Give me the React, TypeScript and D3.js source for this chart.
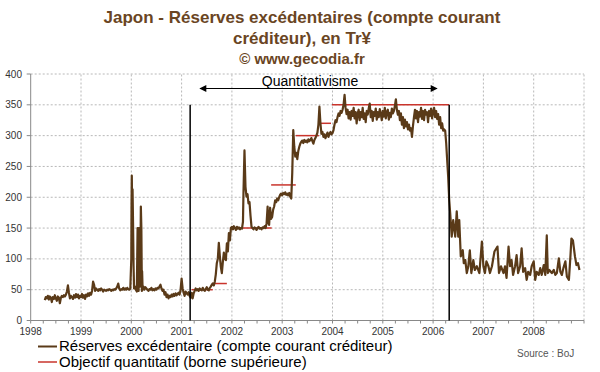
import React from "react";
import * as d3 from "d3";

const W = 600, H = 372;

const titleLines = ["Japon - Réserves excédentaires (compte courant", "créditeur), en Tr¥"];
const subtitle = "© www.gecodia.fr";
const yTicks = [0, 50, 100, 150, 200, 250, 300, 350, 400];
const yearTicks = [1998, 1999, 2000, 2001, 2002, 2003, 2004, 2005, 2006, 2007, 2008];
const legendLabels = ["Réserves excédentaire (compte courant créditeur)", "Objectif quantitatif (borne supérieure)"];
const sourceLabel = "Source : BoJ";
const annotationLabel = "Quantitativisme";
const qeStart = 2001.17;
const qeEnd = 2006.32;

// Reserves (decimal year, value)
const resT = [
  1998.28, 1998.30, 1998.32, 1998.34, 1998.36, 1998.38, 1998.40, 1998.42, 1998.44, 1998.46, 1998.48, 1998.50, 1998.52, 1998.54, 1998.56, 1998.58, 1998.60, 1998.62, 1998.64, 1998.66, 1998.68, 1998.70, 1998.72, 1998.74, 1998.76, 1998.78, 1998.80, 1998.82, 1998.84, 1998.86, 1998.88, 1998.90, 1998.92, 1998.94, 1998.96, 1998.98,
  1999.00, 1999.02, 1999.04, 1999.06, 1999.08, 1999.10, 1999.12, 1999.14, 1999.16, 1999.18, 1999.20, 1999.22, 1999.24, 1999.26, 1999.28, 1999.30, 1999.32, 1999.34, 1999.36, 1999.38, 1999.40, 1999.42, 1999.44, 1999.46, 1999.48, 1999.50, 1999.52, 1999.54, 1999.56, 1999.58, 1999.60, 1999.62, 1999.64, 1999.66, 1999.68, 1999.70, 1999.72, 1999.74, 1999.76, 1999.78, 1999.80, 1999.82, 1999.84, 1999.86, 1999.88, 1999.90, 1999.92, 1999.94, 1999.96, 1999.98,
  2000.00, 2000.005, 2000.01, 2000.02, 2000.025, 2000.035, 2000.045, 2000.055, 2000.07, 2000.09, 2000.11, 2000.125, 2000.135, 2000.145, 2000.155, 2000.165, 2000.175, 2000.18, 2000.19, 2000.20, 2000.21, 2000.215, 2000.225, 2000.24, 2000.26, 2000.28, 2000.30, 2000.32, 2000.34, 2000.36, 2000.38, 2000.40, 2000.42, 2000.44, 2000.46, 2000.48, 2000.50, 2000.52, 2000.54, 2000.56, 2000.58, 2000.60, 2000.62, 2000.64, 2000.66, 2000.68, 2000.70, 2000.72, 2000.74, 2000.76, 2000.78, 2000.80, 2000.82, 2000.84, 2000.86, 2000.88, 2000.90, 2000.92, 2000.94, 2000.96, 2000.98,
  2001.00, 2001.02, 2001.04, 2001.06, 2001.08, 2001.10, 2001.12, 2001.14, 2001.16, 2001.18, 2001.20, 2001.22, 2001.24, 2001.26, 2001.28, 2001.30, 2001.32, 2001.34, 2001.36, 2001.38, 2001.40, 2001.42, 2001.44, 2001.46, 2001.48, 2001.50, 2001.52, 2001.54, 2001.56, 2001.58, 2001.60, 2001.62, 2001.64, 2001.66, 2001.68, 2001.70, 2001.72, 2001.74, 2001.76, 2001.78, 2001.80, 2001.82, 2001.84, 2001.86, 2001.88, 2001.90, 2001.92, 2001.94, 2001.96, 2001.98,
  2002.00, 2002.02, 2002.04, 2002.06, 2002.08, 2002.10, 2002.12, 2002.14, 2002.16, 2002.18, 2002.20, 2002.22, 2002.23, 2002.25, 2002.27, 2002.29, 2002.31, 2002.33, 2002.35, 2002.37, 2002.39, 2002.41, 2002.43, 2002.45, 2002.47, 2002.49, 2002.51, 2002.53, 2002.55, 2002.57, 2002.59, 2002.61, 2002.63, 2002.65, 2002.67, 2002.69, 2002.71, 2002.72, 2002.74, 2002.76, 2002.78, 2002.80, 2002.82, 2002.84, 2002.86, 2002.88, 2002.90, 2002.92, 2002.94, 2002.96, 2002.98,
  2003.00, 2003.02, 2003.04, 2003.06, 2003.08, 2003.10, 2003.12, 2003.14, 2003.16, 2003.18, 2003.20, 2003.22, 2003.24, 2003.26, 2003.28, 2003.30, 2003.32, 2003.34, 2003.36, 2003.38, 2003.40, 2003.42, 2003.44, 2003.46, 2003.48, 2003.50, 2003.52, 2003.54, 2003.56, 2003.58, 2003.60, 2003.62, 2003.64, 2003.66, 2003.68, 2003.70, 2003.72, 2003.74, 2003.76, 2003.78, 2003.80, 2003.82, 2003.84, 2003.86, 2003.88, 2003.90, 2003.92, 2003.94, 2003.96, 2003.98,
  2004.00, 2004.02, 2004.04, 2004.06, 2004.08, 2004.10, 2004.12, 2004.14, 2004.16, 2004.18, 2004.20, 2004.22, 2004.24, 2004.26, 2004.28, 2004.30, 2004.32, 2004.34, 2004.36, 2004.38, 2004.40, 2004.42, 2004.44, 2004.46, 2004.48, 2004.50, 2004.52, 2004.54, 2004.56, 2004.58, 2004.60, 2004.62, 2004.64, 2004.66, 2004.68, 2004.70, 2004.72, 2004.74, 2004.76, 2004.78, 2004.80, 2004.82, 2004.84, 2004.86, 2004.88, 2004.90, 2004.92, 2004.94, 2004.96, 2004.98,
  2005.00, 2005.02, 2005.04, 2005.06, 2005.08, 2005.10, 2005.12, 2005.14, 2005.16, 2005.18, 2005.20, 2005.22, 2005.24, 2005.26, 2005.28, 2005.30, 2005.32, 2005.34, 2005.36, 2005.38, 2005.40, 2005.42, 2005.44, 2005.46, 2005.48, 2005.50, 2005.52, 2005.54, 2005.56, 2005.58, 2005.60, 2005.62, 2005.64, 2005.66, 2005.68, 2005.70, 2005.72, 2005.74, 2005.76, 2005.78, 2005.80, 2005.82, 2005.84, 2005.86, 2005.88, 2005.90, 2005.92, 2005.94, 2005.96, 2005.98,
  2006.00, 2006.02, 2006.04, 2006.06, 2006.08, 2006.10, 2006.12, 2006.14, 2006.16, 2006.18, 2006.20, 2006.22, 2006.24, 2006.26, 2006.28, 2006.30, 2006.32, 2006.34, 2006.37, 2006.40, 2006.44, 2006.47, 2006.50, 2006.52, 2006.55, 2006.59, 2006.61, 2006.64, 2006.67, 2006.70, 2006.73, 2006.76, 2006.80, 2006.83, 2006.87, 2006.92, 2006.97,
  2007.00, 2007.03, 2007.06, 2007.10, 2007.13, 2007.17, 2007.22, 2007.28, 2007.31, 2007.35, 2007.40, 2007.43, 2007.46, 2007.50, 2007.53, 2007.56, 2007.59, 2007.63, 2007.66, 2007.69, 2007.73, 2007.76, 2007.79, 2007.83, 2007.86, 2007.89, 2007.93, 2007.96,
  2008.00, 2008.03, 2008.06, 2008.10, 2008.13, 2008.16, 2008.20, 2008.23, 2008.26, 2008.28, 2008.31, 2008.36, 2008.40, 2008.43, 2008.46, 2008.50, 2008.53, 2008.56, 2008.59, 2008.63, 2008.66, 2008.70, 2008.73, 2008.75, 2008.78, 2008.82, 2008.85, 2008.88, 2008.91,
];
const resV = [
  33, 38, 36, 40, 34, 39, 37, 30, 38, 35, 41, 36, 32, 39, 37, 28, 37, 40, 38, 41, 39, 42, 47, 57, 45, 36, 40, 38, 35, 41, 37, 43, 38, 42, 36, 40,
  38, 43, 37, 41, 35, 42, 39, 44, 40, 45, 42, 48, 63, 58, 48, 52, 50, 48, 51, 49, 52, 50, 47, 50, 49, 48, 50, 49, 51, 50, 48, 50, 49, 51, 50, 52, 55, 60, 52, 49, 51, 50, 53, 50, 52, 50, 53, 51, 50, 52,
  100, 190, 235, 150, 213, 156, 88, 52, 55, 50, 47, 150, 150, 48, 150, 150, 55, 82, 185, 150, 48, 80, 50, 55, 50, 54, 52, 50, 48, 51, 50, 53, 49, 51, 49, 52, 50, 53, 52, 55, 58, 52, 48, 50, 42, 46, 38, 42, 36, 40, 38, 42, 39, 43, 40, 44, 41, 43, 45, 42, 50,
  68, 52, 45, 40, 47, 44, 42, 46, 40, 37, 45, 36, 44, 48, 52, 49, 51, 48, 52, 50, 49, 53, 50, 48, 51, 54, 50, 49, 53, 55, 58, 60, 57, 63, 75, 93, 100, 126, 105, 87, 77, 95, 110, 100, 98, 125, 112, 142, 130, 150,
  152, 148, 153, 150, 147, 152, 149, 151, 148, 150, 149, 160, 207, 276, 217, 201, 205, 190, 192, 170, 152, 150, 148, 151, 150, 147, 150, 152, 149, 150, 148, 151, 150, 153, 150, 158, 185, 160, 155, 183, 165, 168, 180, 185, 195, 192, 198, 195, 200, 204, 206,
  203, 207, 205, 208, 204, 206, 203, 207, 201, 198, 240, 309, 282, 266, 272, 262, 275, 282, 287, 290, 292, 288, 293, 290, 292, 289, 294, 291, 293, 296, 291, 287, 293, 296, 300, 305, 318, 347, 320, 303, 306, 298, 302, 296, 300, 305, 298, 303, 306, 302,
  304, 309, 318, 325, 322, 330, 336, 332, 340, 337, 342, 350, 366, 345, 335, 342, 328, 338, 326, 340, 332, 345, 328, 338, 320, 336, 342, 325, 338, 330, 345, 327, 336, 322, 340, 334, 344, 352, 330, 340, 324, 338, 332, 344, 326, 338, 330, 343, 335, 325,
  340, 331, 345, 328, 338, 342, 326, 337, 330, 344, 336, 340, 348, 359, 342, 334, 340, 325, 336, 318, 330, 312, 326, 315, 322, 310, 318, 308, 312, 298, 316, 330, 342, 328, 340, 322, 338, 331, 345, 327, 340, 325, 342, 334, 338, 322, 340, 332, 344, 328,
  339, 345, 330, 340, 327, 335, 318, 330, 312, 320, 308, 310, 308, 288, 260, 233, 196, 174, 136, 163, 136, 177, 136, 163, 104, 114, 93, 98, 77, 88, 114, 77, 98, 82, 88, 77, 128,
  88, 77, 96, 88, 77, 88, 112, 120, 77, 88, 77, 88, 69, 120, 88, 98, 74, 88, 106, 77, 88, 117, 79, 85, 66, 79, 74, 88,
  96, 66, 79, 74, 85, 74, 90, 74, 138, 77, 82, 77, 82, 74, 77, 101, 79, 74, 85, 96, 71, 66, 104, 133, 130, 104, 90, 93, 82,
];

// Target segments (start, end, upper bound)
const tgtStart = [2001.20, 2001.62, 2001.96, 2002.78, 2003.27, 2003.73, 2003.99];
const tgtEnd = [2001.62, 2001.90, 2002.79, 2003.27, 2003.73, 2003.97, 2006.32];
const tgtValue = [50, 60, 150, 220, 300, 320, 350];

const BROWN = "#5a3a18";
const TITLE = "#6a4523";
const RED = "#c9342c";
const FONT = "'Liberation Sans', Arial, sans-serif";

export default function App() {
  const x = d3.scaleLinear().domain([1998, 2009]).range([30.7, 584]);
  const y = d3.scaleLinear().domain([0, 400]).range([320.5, 74]);
  const pts = resT.map((t, i) => [t, resV[i]] as [number, number]);
  const line = d3.line<[number, number]>().x(d => x(d[0])).y(d => y(d[1]));
  const quarters = d3.range(1998, 2009.001, 0.25);
  const gridYears = d3.range(1999, 2010);

  return (
    <svg width={W} height={H} style={{ position: "absolute", left: 0, top: 0, background: "#fff" }} fontFamily={FONT}>
      <rect x={0} y={0} width={W} height={H} fill="#fff" />
      <defs>
        <marker id="ah" viewBox="0 0 10 10" refX="9" refY="5" markerWidth="8" markerHeight="7" orient="auto-start-reverse" markerUnits="userSpaceOnUse">
          <path d="M0,0 L10,5 L0,10 z" fill="#000" />
        </marker>
      </defs>
      {/* titles */}
      <text x={302} y={23} textAnchor="middle" fontSize={17} fontWeight="bold" fill={TITLE}>{titleLines[0]}</text>
      <text x={302} y={44} textAnchor="middle" fontSize={17} fontWeight="bold" fill={TITLE}>{titleLines[1]}</text>
      <text x={302} y={64} textAnchor="middle" fontSize={15} fontWeight="bold" fill={TITLE}>{subtitle}</text>

      {/* grid */}
      {yTicks.filter(v => v > 0).map(v => (
        <line key={"gy" + v} x1={x(1998)} x2={x(2009)} y1={y(v)} y2={y(v)} stroke="#b8b8b8" strokeWidth={1} strokeDasharray="2,2" />
      ))}
      {gridYears.map(yr => (
        <line key={"gx" + yr} x1={x(yr)} x2={x(yr)} y1={y(0)} y2={y(400)} stroke="#b8b8b8" strokeWidth={1} strokeDasharray="2,2" />
      ))}

      {/* axes */}
      <line x1={x(1998)} x2={x(1998)} y1={y(0)} y2={y(400)} stroke="#888" strokeWidth={1} />
      <line x1={x(1998)} x2={x(2009)} y1={y(0)} y2={y(0)} stroke="#888" strokeWidth={1} />
      {yTicks.map(v => (
        <g key={"yt" + v}>
          <line x1={x(1998) - 4} x2={x(1998)} y1={y(v)} y2={y(v)} stroke="#888" />
          <text x={22} y={y(v)} dy="0.35em" textAnchor="end" fontSize={10} fill="#333">{v}</text>
        </g>
      ))}
      {quarters.map(q => (
        <line key={"q" + q} x1={x(q)} x2={x(q)} y1={y(0)} y2={y(0) + 3} stroke="#888" />
      ))}
      {yearTicks.map(yr => (
        <text key={"xl" + yr} x={x(yr)} y={334.5} textAnchor="middle" fontSize={10} fill="#333">{yr}</text>
      ))}

      {/* target */}
      {tgtValue.map((v, i) => (
        <line key={"tg" + i} x1={x(tgtStart[i])} x2={x(tgtEnd[i])} y1={y(v)} y2={y(v)} stroke={RED} strokeWidth={1.5} />
      ))}

      {/* series */}
      <path d={line(pts) || ""} fill="none" stroke={BROWN} strokeWidth={2.2} strokeLinejoin="round" />

      {/* QE period markers */}
      <line x1={x(qeStart)} x2={x(qeStart)} y1={y(0)} y2={y(350)} stroke="#000" strokeWidth={1.5} />
      <line x1={x(qeEnd)} x2={x(qeEnd)} y1={y(0)} y2={y(350)} stroke="#000" strokeWidth={1.5} />
      <line x1={200} x2={437} y1={88.5} y2={88.5} stroke="#000" strokeWidth={1} markerStart="url(#ah)" markerEnd="url(#ah)" />
      <text x={310} y={86} textAnchor="middle" fontSize={14} fill="#000">{annotationLabel}</text>

      {/* legend */}
      <line x1={38} x2={57} y1={346.5} y2={346.5} stroke={BROWN} strokeWidth={2} />
      <text x={59} y={351} fontSize={15} fill="#000">{legendLabels[0]}</text>
      <line x1={38} x2={57} y1={362} y2={362} stroke={RED} strokeWidth={1.5} />
      <text x={59} y={367} fontSize={15} fill="#000">{legendLabels[1]}</text>
      <text x={517} y={357} fontSize={10} fill="#555">{sourceLabel}</text>
    </svg>
  );
}
